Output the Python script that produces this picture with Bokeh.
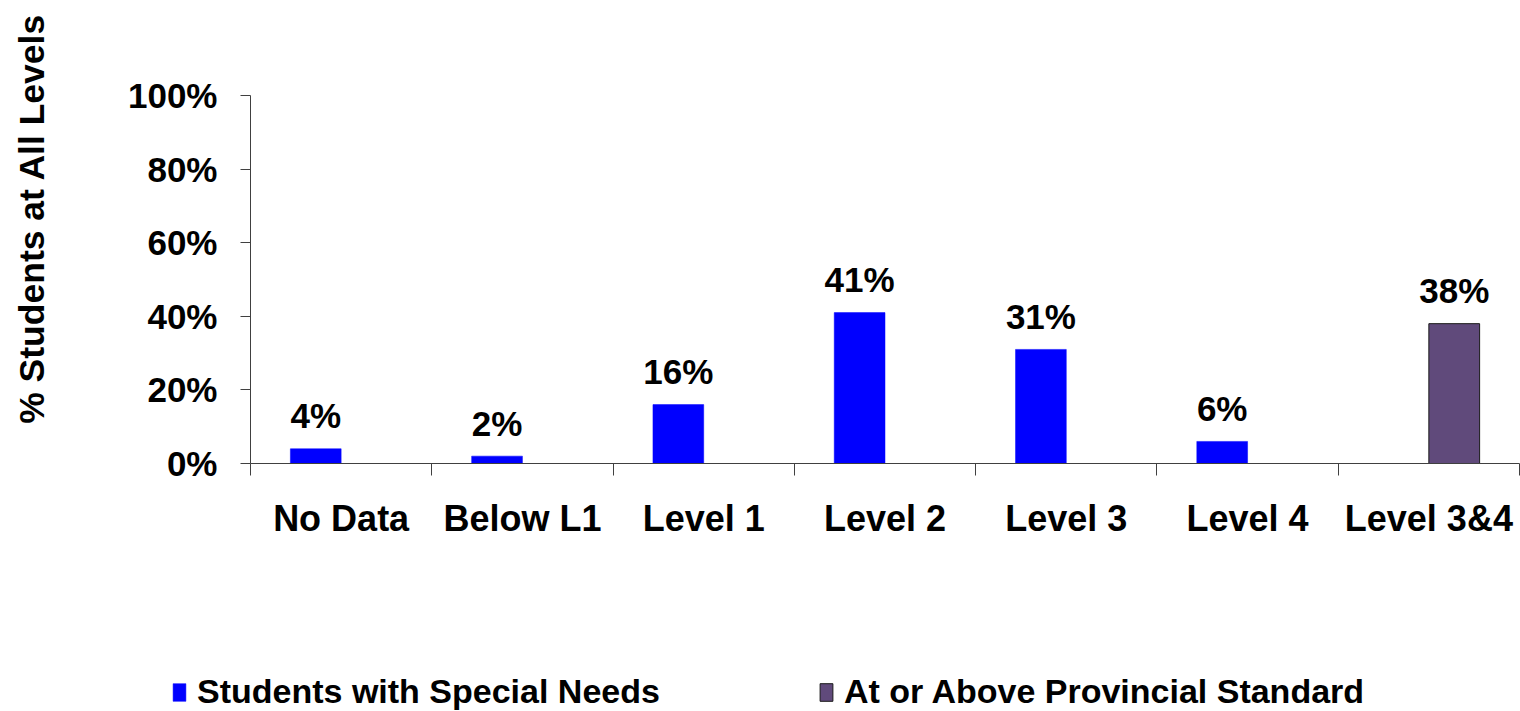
import numpy as np
from bokeh.plotting import figure
from bokeh.layouts import row, column
from bokeh.models import (ColumnDataSource, Range1d, LinearAxis, FixedTicker,
                          PrintfTickFormatter, Legend, LegendItem, Title)
from bokeh.core.properties import value
from bokeh.embed import file_html
from bokeh.resources import INLINE

# ---- data ----
categories = ["No Data", "Below L1", "Level 1", "Level 2", "Level 3", "Level 4", "Level 3&4"]
special_needs = [4, 2, 16, 41, 31, 6, None]
provincial_std = [None, None, None, None, None, None, 38]
series_names = ["Students with Special Needs", "At or Above Provincial Standard"]
y_ticks = [0, 20, 40, 60, 80, 100]
y_title = "% Students at All Levels"

FONT = "Liberation Sans"
BLUE = "#0000FF"
PURPLE = "#604A7B"
AXIS_C = "#404040"
BAR_W = 0.28
TW = 60          # width of the y-title strip
H_TOP = 600      # height of chart row
H_LEG = 111      # height of legend strip
W = 1520
F_TOP, F_BOT = 95, 463   # frame top / bottom in page pixels

idx = np.arange(len(categories), dtype=float)

def to_arr(vals):
    return np.array([np.nan if v is None else float(v) for v in vals])

sn = to_arr(special_needs)
ps = to_arr(provincial_std)

src_sn = ColumnDataSource(dict(x=idx + 0.5 - BAR_W / 2, top=sn,
                               lab=["" if v is None else f"{v}%" for v in special_needs]))
src_ps = ColumnDataSource(dict(x=idx + 0.5 + BAR_W / 2, top=ps,
                               lab=["" if v is None else f"{v}%" for v in provincial_std]))

def bare(fig):
    fig.outline_line_color = None
    fig.xgrid.visible = False
    fig.ygrid.visible = False
    fig.background_fill_color = "white"
    fig.border_fill_color = "white"
    return fig

# ---------------- main chart ----------------
p = bare(figure(width=W - TW, height=H_TOP, output_backend="svg", toolbar_location=None,
                x_range=Range1d(0, len(categories)), y_range=Range1d(0, 100),
                x_axis_type=None, y_axis_type=None,
                min_border_left=250 - TW, min_border_right=1, min_border_top=F_TOP,
                min_border_bottom=H_TOP - F_BOT))

bar_sn = dict(fill_color=BLUE, line_color=BLUE, line_width=0.5)
bar_ps = dict(fill_color=PURPLE, line_color="#1a1a1a", line_width=1)

p.vbar(x="x", top="top", width=BAR_W, bottom=0, source=src_sn, **bar_sn)
p.vbar(x="x", top="top", width=BAR_W, bottom=0, source=src_ps, **bar_ps)

for src in (src_sn, src_ps):
    p.text(x="x", y="top", text="lab", source=src, text_align="center",
           text_baseline="alphabetic", y_offset=-33, text_font=value(FONT),
           text_font_style="bold", text_font_size="35px", text_color="black")

yax = LinearAxis(ticker=FixedTicker(ticks=y_ticks), formatter=PrintfTickFormatter(format="%d%%"))
yax.axis_line_color = AXIS_C
yax.major_tick_line_color = AXIS_C
yax.major_tick_out = 10
yax.major_tick_in = 0
yax.minor_tick_line_color = None
yax.major_label_standoff = 23
yax.major_label_text_font = FONT
yax.major_label_text_font_style = "bold"
yax.major_label_text_font_size = "35px"
yax.major_label_text_color = "black"
p.add_layout(yax, "left")

xax_a = LinearAxis(ticker=FixedTicker(ticks=list(range(len(categories) + 1))),
                   major_label_overrides={i: "" for i in range(len(categories) + 1)})
xax_a.axis_line_color = AXIS_C
xax_a.major_tick_line_color = AXIS_C
xax_a.major_tick_out = 12
xax_a.major_tick_in = 0
xax_a.minor_tick_line_color = None
xax_a.major_label_text_font_size = "1px"
xax_a.major_label_standoff = 0
p.add_layout(xax_a, "below")

centres = [i + 0.5 for i in range(len(categories))]
xax_b = LinearAxis(ticker=FixedTicker(ticks=centres),
                   major_label_overrides={c: n for c, n in zip(centres, categories)})
xax_b.axis_line_color = None
xax_b.major_tick_line_color = None
xax_b.minor_tick_line_color = None
xax_b.major_tick_out = 0
xax_b.major_tick_in = 0
xax_b.major_label_standoff = 22
xax_b.major_label_text_font = FONT
xax_b.major_label_text_font_style = "bold"
xax_b.major_label_text_font_size = "36px"
xax_b.major_label_text_color = "black"
p.add_layout(xax_b, "below")

# ---------------- y-title strip ----------------
t = bare(figure(width=TW, height=H_TOP, output_backend="svg", toolbar_location=None,
                x_range=Range1d(0, 1), y_range=Range1d(0, 1),
                x_axis_type=None, y_axis_type=None,
                min_border_left=57, min_border_right=0, min_border_top=F_TOP,
                min_border_bottom=H_TOP - F_BOT))
t.add_layout(Title(text=y_title, align="right", offset=13 - F_TOP, vertical_align="middle",
                   standoff=10, text_font=FONT, text_font_style="bold",
                   text_font_size="35.5px", text_color="black"), "left")

# ---------------- legend strip ----------------
# the legend strip re-uses the chart's sources, with ranges that keep the bars out of view
lg = bare(figure(width=W, height=H_LEG, output_backend="svg", toolbar_location=None,
                 x_range=Range1d(1000, 1001), y_range=Range1d(1000, 1001),
                 x_axis_type=None, y_axis_type=None,
                 min_border_left=0, min_border_right=0, min_border_top=0, min_border_bottom=0))
lr1 = lg.vbar(x="x", top="top", width=BAR_W, bottom=0, source=src_sn, **bar_sn)
lr2 = lg.vbar(x="x", top="top", width=BAR_W, bottom=0, source=src_ps, **bar_ps)
legend = Legend(items=[LegendItem(label=series_names[0], renderers=[lr1]),
                       LegendItem(label=series_names[1], renderers=[lr2])],
                location=(171, 0), orientation="horizontal")
legend.padding = 0
legend.margin = 0
legend.spacing = 158
legend.label_standoff = 10
legend.glyph_width = 16
legend.glyph_height = 22
legend.border_line_color = None
legend.background_fill_alpha = 0
legend.label_text_font = FONT
legend.label_text_font_style = "bold"
legend.label_text_font_size = "34px"
legend.label_text_color = "black"
lg.add_layout(legend, "center")

layout = column(row(t, p, spacing=0), lg, spacing=0)
open("out.html", "w").write(file_html(layout, INLINE))
